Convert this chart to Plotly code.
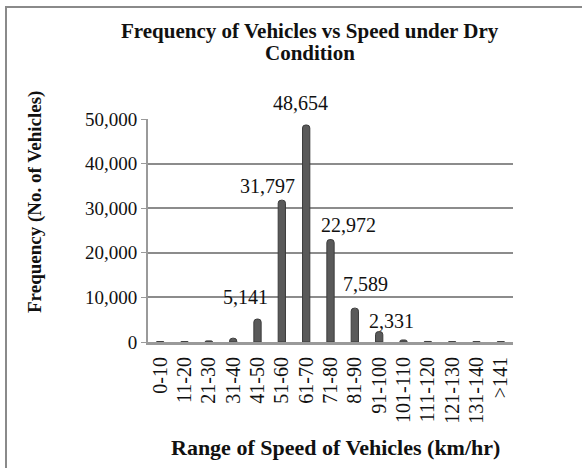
import plotly.graph_objects as go

categories = ["0-10", "11-20", "21-30", "31-40", "41-50", "51-60", "61-70", "71-80",
              "81-90", "91-100", "101-110", "111-120", "121-130", "131-140", ">141"]
frequency = [90, 90, 250, 850, 5141, 31797, 48654, 22972, 7589, 2331, 450, 120, 80, 80, 80]
labelled = ["41-50", "51-60", "61-70", "71-80", "81-90", "91-100"]
ytick_vals = [0, 10000, 20000, 30000, 40000, 50000]
ytick_text = ["0", "10,000", "20,000", "30,000", "40,000", "50,000"]
title_lines = ["Frequency of Vehicles vs Speed under Dry", "Condition"]

# label offsets (style): xshift, yshift in px
label_shift = {"41-50": (-12, 22), "51-60": (-14, 14), "61-70": (-6, 22),
               "71-80": (18, 15), "81-90": (11, 24), "91-100": (12, 11)}

W, H = 582, 468
L, R, T, B = 148, 69, 119, 126
pw, ph = W - L - R, H - T - B
serif = "Liberation Serif, Times New Roman, serif"

fig = go.Figure()
fig.add_trace(go.Bar(
    x=categories, y=frequency, width=0.3,
    marker=dict(color="#5a5a5a", line=dict(color="#3c3c3c", width=1), cornerradius=3),
    hoverinfo="x+y",
))

annotations = []
for c, v in zip(categories, frequency):
    if c in labelled:
        xs, ys = label_shift[c]
        annotations.append(dict(x=c, y=v, xref="x", yref="y", text=f"{v:,}",
                                showarrow=False, xshift=xs, yshift=ys,
                                font=dict(family=serif, size=20, color="#111")))

def px_to_paper_x(px):
    return (px - L) / pw

def px_to_paper_y(py):
    return (H - B - py) / ph

annotations.append(dict(x=px_to_paper_x(35), y=px_to_paper_y(202), xref="paper", yref="paper",
                        xanchor="center", yanchor="middle",
                        text="<b>Frequency (No. of Vehicles)</b>", textangle=-90, showarrow=False,
                        font=dict(family=serif, size=19, color="#111")))
annotations.append(dict(x=px_to_paper_x(335), y=px_to_paper_y(447), xref="paper", yref="paper",
                        xanchor="center", yanchor="middle",
                        text="<b>Range of Speed of Vehicles (km/hr)</b>", showarrow=False,
                        font=dict(family=serif, size=22, color="#111")))
for line, ypx in zip(title_lines, [31, 53]):
    annotations.append(dict(x=px_to_paper_x(310), y=px_to_paper_y(ypx), xref="paper", yref="paper",
                            xanchor="center", yanchor="middle",
                            text=f"<b>{line}</b>", showarrow=False,
                            font=dict(family=serif, size=21, color="#111")))

fig.update_layout(
    width=W, height=H,
    margin=dict(l=L, r=R, t=T, b=B),
    paper_bgcolor="white", plot_bgcolor="white",
    showlegend=False,
    annotations=annotations,
    shapes=[dict(type="rect", xref="paper", yref="paper",
                 x0=px_to_paper_x(6), x1=px_to_paper_x(700),
                 y0=px_to_paper_y(600), y1=px_to_paper_y(7),
                 line=dict(color="#8a8a8a", width=2), layer="below")],
    xaxis=dict(type="category", categoryorder="array", categoryarray=categories,
               tickangle=-90, showgrid=False, showline=True, linecolor="#9a9a9a", linewidth=3,
               ticks="", ticklabelstandoff=4,
               tickfont=dict(family=serif, size=20, color="#111")),
    yaxis=dict(range=[0, 50000], tickvals=ytick_vals, ticktext=ytick_text,
               showgrid=True, gridcolor="#8c8c8c", gridwidth=2,
               showline=True, linecolor="#9a9a9a", linewidth=2,
               ticks="outside", ticklen=5, tickcolor="#9a9a9a",
               zeroline=False,
               tickfont=dict(family=serif, size=19, color="#111")),
)

fig.write_html("out.html", config={"displayModeBar": False},
               post_script="document.body.style.margin='0';")
